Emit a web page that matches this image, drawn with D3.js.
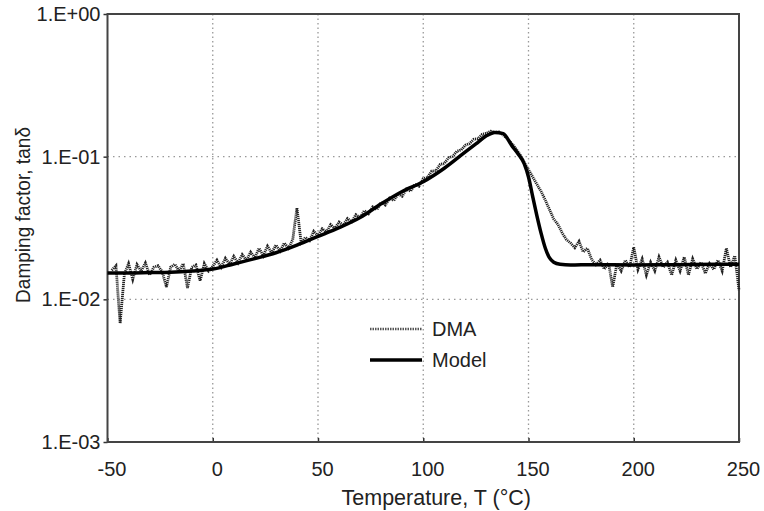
<!DOCTYPE html>
<html>
<head>
<meta charset="utf-8">
<script src="https://cdn.jsdelivr.net/npm/d3@7"></script>
<style>
  body { margin: 0; background: #fff; }
  svg { display: block; font-family: Arial, "Liberation Sans", sans-serif; }
</style>
</head>
<body>
<svg id="svg" width="764" height="511"></svg>
<script>
// x ticks and y ticks
var xTicks = [-50, 0, 50, 100, 150, 200, 250];
var xTickLabels = ["-50", "0", "50", "100", "150", "200", "250"];
var yTicks = [0.001, 0.01, 0.1, 1];
var yTickLabels = ["1.E-03", "1.E-02", "1.E-01", "1.E+00"];

// model curve
var modelTemp = [-50, -40, -30, -20, -10, 0, 10, 20, 30, 40, 50, 60, 70, 80, 90, 100, 110, 120, 125, 130, 134, 138, 142, 145, 148, 150, 152, 154, 156, 158, 160, 162, 165, 170, 180, 200, 220, 240, 250];
var modelDamp = [0.0153, 0.0153, 0.0154, 0.0155, 0.0158, 0.0163, 0.0177, 0.0193, 0.0212, 0.0240, 0.0276, 0.0318, 0.0375, 0.0467, 0.0570, 0.0668, 0.0830, 0.1080, 0.1230, 0.1400, 0.1480, 0.1450, 0.1200, 0.1050, 0.0890, 0.0720, 0.0525, 0.0385, 0.0290, 0.0228, 0.0195, 0.0182, 0.0176, 0.0174, 0.0175, 0.0174, 0.0175, 0.0176, 0.0176];

// DMA measurement (noisy)
var dmaTemp = [-48, -46, -44, -42, -40, -38, -36, -34, -32, -30, -28, -26, -24, -22, -20, -18, -16, -14, -12, -10,
  -8, -6, -4, -2, 0, 2, 4, 6, 8, 10, 12, 14, 16, 18, 20, 22, 24, 26, 28, 30,
  32, 34, 36, 38, 40, 42, 44, 46, 48, 50, 52, 54, 56, 58, 60, 62, 64, 66, 68, 70,
  72, 74, 76, 78, 80, 82, 84, 86, 88, 90, 92, 94, 96, 98, 100, 102, 104, 106, 108, 110,
  112, 114, 116, 118, 120, 122, 124, 126, 128, 130, 132, 134, 136, 138, 140, 142, 144, 146, 148, 150,
  152, 154, 156, 158, 160, 162, 164, 166, 168, 170, 172, 174, 176, 178, 180, 182, 184, 186, 188, 190,
  192, 194, 196, 198, 200, 202, 204, 206, 208, 210, 212, 214, 216, 218, 220, 222, 224, 226, 228, 230,
  232, 234, 236, 238, 240, 242, 244, 246, 248, 250];
var dmaDamp = [0.0160, 0.0172, 0.0068, 0.0150, 0.0178, 0.0138, 0.0175, 0.0158, 0.0180, 0.0148, 0.0168, 0.0172, 0.0156, 0.0122, 0.0168, 0.0176, 0.0158, 0.0178, 0.0120, 0.0168,
  0.0174, 0.0135, 0.0178, 0.0158, 0.0170, 0.0188, 0.0168, 0.0194, 0.0176, 0.0200, 0.0180, 0.0206, 0.0188, 0.0214, 0.0196, 0.0228, 0.0202, 0.0236, 0.0212, 0.0240,
  0.0218, 0.0248, 0.0228, 0.0262, 0.0437, 0.0250, 0.0272, 0.0258, 0.0300, 0.0280, 0.0312, 0.0296, 0.0334, 0.0314, 0.0348, 0.0332, 0.0368, 0.0350, 0.0392, 0.0374,
  0.0418, 0.0398, 0.0444, 0.0426, 0.0478, 0.0458, 0.0512, 0.0492, 0.0548, 0.0528, 0.0592, 0.0572, 0.0642, 0.0622, 0.0702, 0.0715, 0.0792, 0.0796, 0.0882, 0.0895,
  0.0982, 0.1005, 0.1092, 0.1115, 0.1205, 0.1235, 0.1325, 0.1335, 0.1435, 0.1455, 0.1510, 0.1480, 0.1490, 0.1420, 0.1330, 0.1240, 0.1140, 0.1030, 0.0910, 0.0810,
  0.0720, 0.0640, 0.0570, 0.0495, 0.0425, 0.0365, 0.0335, 0.0292, 0.0262, 0.0248, 0.0230, 0.0255, 0.0215, 0.0228, 0.0190, 0.0175, 0.0188, 0.0163, 0.0180, 0.0122,
  0.0178, 0.0158, 0.0188, 0.0168, 0.0232, 0.0162, 0.0192, 0.0148, 0.0182, 0.0158, 0.0198, 0.0168, 0.0182, 0.0148, 0.0188, 0.0158, 0.0198, 0.0148, 0.0192, 0.0163,
  0.0182, 0.0152, 0.0178, 0.0162, 0.0188, 0.0158, 0.0228, 0.0168, 0.0202, 0.0116];

var svg = d3.select("#svg");
var plot = {left: 107.5, right: 739, top: 14, bottom: 442};

var xScale = d3.scaleLinear().domain([-50, 250]).range([plot.left, plot.right]);
var yScale = d3.scaleLog().domain([0.001, 1]).range([plot.bottom, plot.top]);

//gridlines
var grid = svg.append("g");
grid.selectAll("line.vx").data(xTicks.slice(1, -1)).enter()
    .append("line")
    .attr("x1", function(d){ return xScale(d); })
    .attr("x2", function(d){ return xScale(d); })
    .attr("y1", plot.top)
    .attr("y2", plot.bottom)
    .attr("stroke", "#999")
    .attr("stroke-width", 1.3)
    .attr("stroke-dasharray", "1.5,3");
grid.selectAll("line.hy").data(yTicks.slice(1, -1)).enter()
    .append("line")
    .attr("x1", plot.left)
    .attr("x2", plot.right)
    .attr("y1", function(d){ return yScale(d); })
    .attr("y2", function(d){ return yScale(d); })
    .attr("stroke", "#999")
    .attr("stroke-width", 1.3)
    .attr("stroke-dasharray", "1.5,4");

//axes
var xAxis = svg.append("g")
    .attr("transform", "translate(0," + plot.bottom + ")")
    .call(d3.axisBottom(xScale).tickValues(xTicks)
        .tickFormat(function(d, i){ return xTickLabels[i]; })
        .tickSizeInner(-4).tickSizeOuter(0).tickPadding(20));
xAxis.selectAll("text").attr("dx", 4);
var yAxis = svg.append("g")
    .attr("transform", "translate(" + plot.left + ",0)")
    .call(d3.axisLeft(yScale).tickValues(yTicks)
        .tickFormat(function(d, i){ return yTickLabels[i]; })
        .tickSize(4).tickPadding(3));
[xAxis, yAxis].forEach(function(ax){
    ax.select(".domain").remove();
    ax.selectAll("text").attr("font-size", 20).attr("fill", "#222")
        .attr("font-family", "Arial, 'Liberation Sans', sans-serif");
    ax.selectAll("line").attr("stroke", "#333").attr("stroke-width", 1.5);
});

// frame
svg.append("rect")
    .attr("x", plot.left).attr("y", plot.top)
    .attr("width", plot.right - plot.left).attr("height", plot.bottom - plot.top)
    .attr("fill", "none").attr("stroke", "#444").attr("stroke-width", 2);

//lines
var dmaLine = d3.line()
    .x(function(d, i){ return xScale(dmaTemp[i]); })
    .y(function(d){ return yScale(d); });
var modelLine = d3.line()
    .x(function(d, i){ return xScale(modelTemp[i]); })
    .y(function(d){ return yScale(d); })
    .curve(d3.curveMonotoneX);

svg.append("path").datum(dmaDamp)
    .attr("d", dmaLine)
    .attr("fill", "none")
    .attr("stroke", "#222")
    .attr("stroke-width", 2.8)
    .attr("stroke-dasharray", "1.2,0.8");
svg.append("path").datum(modelDamp)
    .attr("d", modelLine)
    .attr("fill", "none")
    .attr("stroke", "#000")
    .attr("stroke-width", 3.5)
    .attr("stroke-linejoin", "round");

//legend
var legend = svg.append("g").attr("transform", "translate(370,329)");
legend.append("line").attr("x1", 0).attr("x2", 52).attr("y1", 0).attr("y2", 0)
    .attr("stroke", "#555").attr("stroke-width", 2.4).attr("stroke-dasharray", "1.5,1");
legend.append("line").attr("x1", 0).attr("x2", 52).attr("y1", 31).attr("y2", 31)
    .attr("stroke", "#000").attr("stroke-width", 3.5);
legend.append("text").attr("x", 62).attr("y", 7).attr("font-size", 20).attr("fill", "#222").text("DMA");
legend.append("text").attr("x", 62).attr("y", 38).attr("font-size", 20).attr("fill", "#222").text("Model");

//titles
svg.append("text")
    .attr("x", (plot.left + plot.right) / 2 + 13)
    .attr("y", 505)
    .attr("text-anchor", "middle")
    .attr("font-size", 21.5)
    .attr("fill", "#222")
    .text("Temperature, T (°C)");
svg.append("text")
    .attr("transform", "translate(30,215) rotate(-90)")
    .attr("text-anchor", "middle")
    .attr("font-size", 20)
    .attr("textLength", 176)
    .attr("lengthAdjust", "spacingAndGlyphs")
    .attr("fill", "#222")
    .text("Damping factor, tanδ");
</script>
</body>
</html>
